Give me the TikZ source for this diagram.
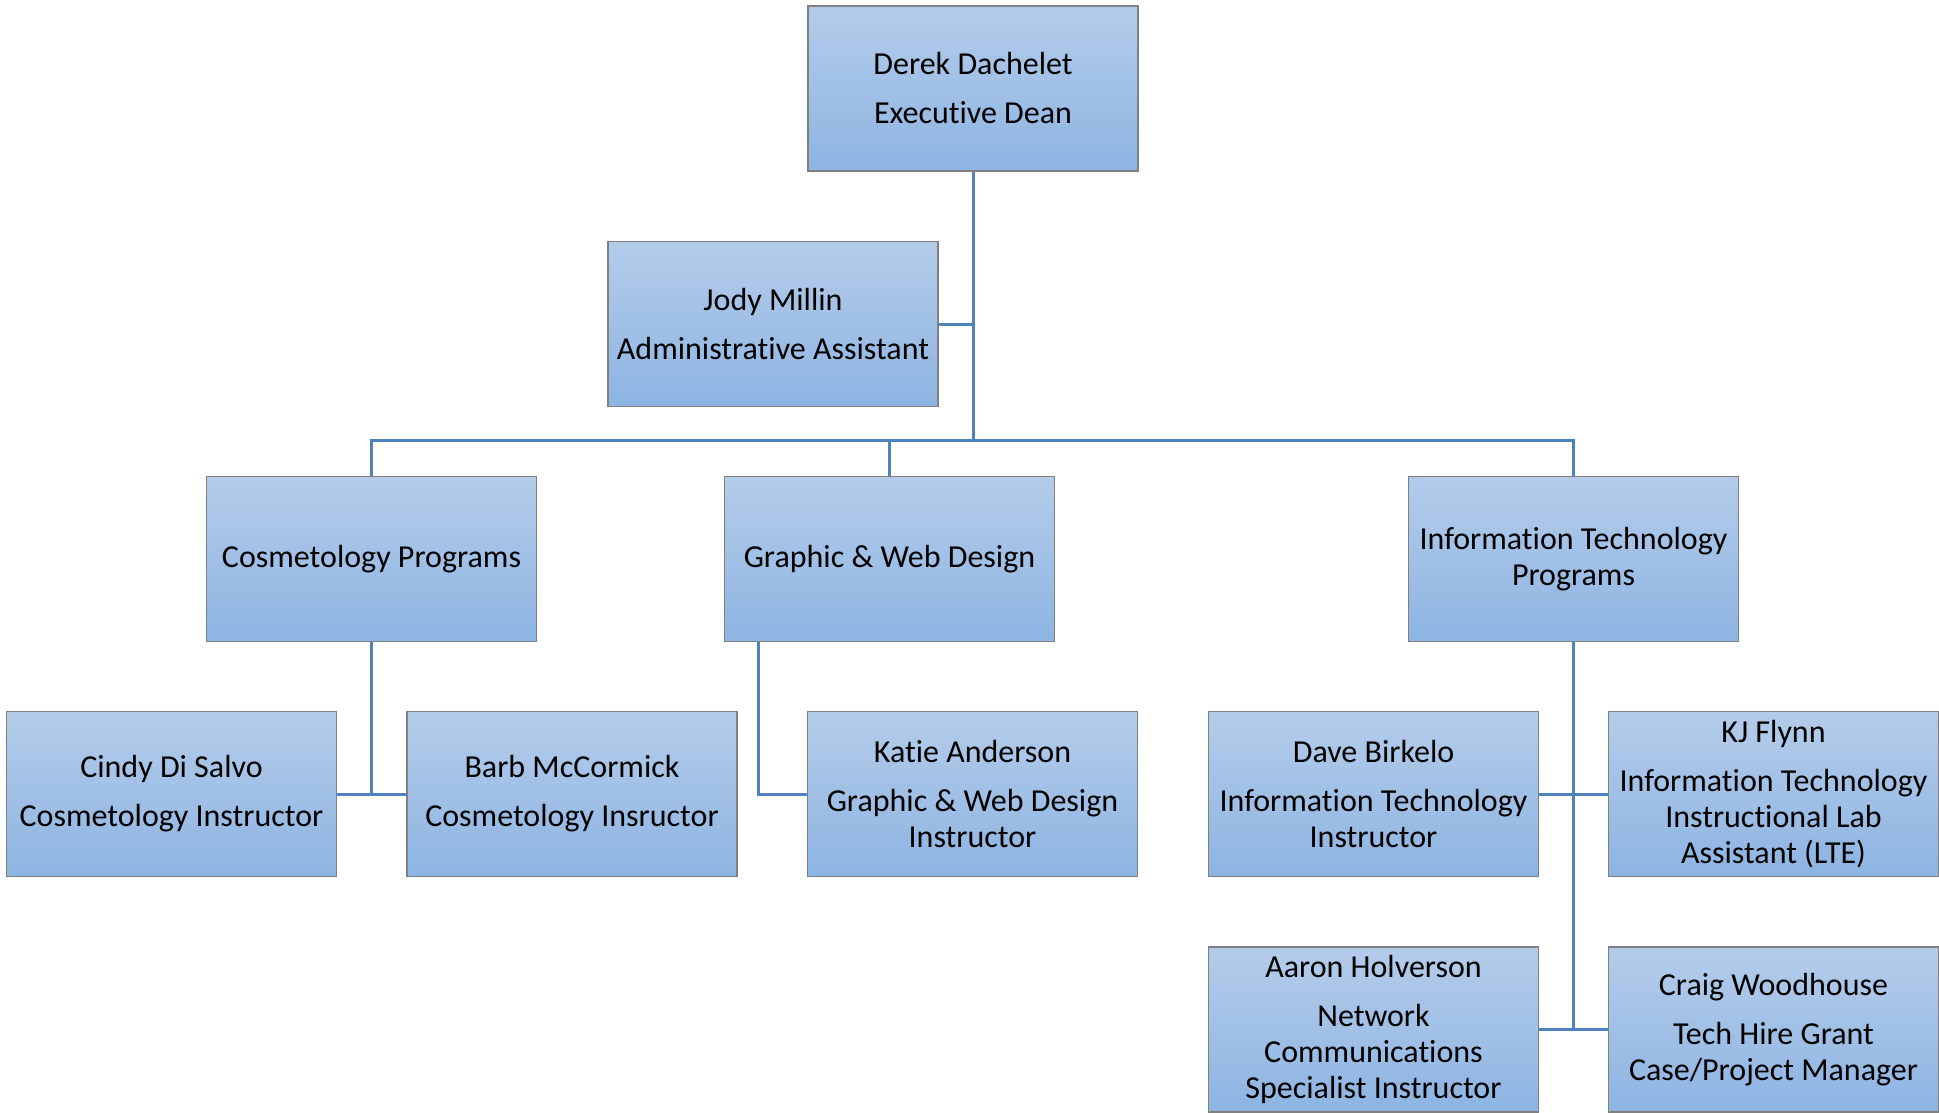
\documentclass[tikz,border=0pt]{standalone}
\usepackage{fontspec}
\setmainfont[Ligatures=NoCommon]{Carlito}
\usepackage{tikz}
\usetikzlibrary{calc}
\definecolor{boxtop}{HTML}{B4CCEA}
\definecolor{boxbottom}{HTML}{8DB4E2}
\definecolor{boxline}{HTML}{808080}
\definecolor{linkblue}{HTML}{4F81BD}
\newcommand{\gap}{\\[6.5pt]}
\begin{document}
\begin{tikzpicture}[x=0.5pt, y=-0.5pt,
		orgbox/.style={rectangle, draw=boxline, line width=0.8pt, top color=boxtop, bottom color=boxbottom, minimum width=165pt, minimum height=82.5pt, inner sep=0pt, align=center, font=\fontsize{16}{18}\selectfont},
		link/.style={draw=linkblue, line width=1.5pt}]
		\useasboundingbox (0,0) rectangle (1939,1113);
		
		\node (rectdean) [orgbox] at (973,88.5) {Derek Dachelet\gap Executive Dean};
		
		\node (rectjody) [orgbox] at (773,324) {Jody Millin\gap Administrative Assistant};
		
		\node (rectcosm) [orgbox] at (371.5,559) {Cosmetology Programs};
		
		\node (rectgraphic) [orgbox] at (889.5,559) {Graphic \& Web Design};
		
		\node (rectit) [orgbox] at (1573.5,559) {Information Technology\\Programs};
		
		\node (rectcindy) [orgbox] at (171.5,794) {Cindy Di Salvo\gap Cosmetology Instructor};
		
		\node (rectbarb) [orgbox] at (572,794) {Barb McCormick\gap Cosmetology Insructor};
		
		\node (rectkatie) [orgbox] at (972.5,794) {Katie Anderson\gap Graphic \& Web Design\\Instructor};
		
		\node (rectdave) [orgbox] at (1373.5,794) {Dave Birkelo\gap Information Technology\\Instructor};
		
		\node (rectkj) [orgbox] at (1773.5,794) {KJ Flynn\gap Information Technology\\Instructional Lab\\Assistant (LTE)};
		
		\node (rectaaron) [orgbox] at (1373.5,1029.5) {Aaron Holverson\gap Network\\Communications\\Specialist Instructor};
		
		\node (rectcraig) [orgbox] at (1773.5,1029.5) {Craig Woodhouse\gap Tech Hire Grant\\Case/Project Manager};
		
		\coordinate (bar) at (973,440);
		
		\draw [link] (rectdean.south) -- (bar);
		\draw [link] (rectdean.south) |- (rectjody.east);
		\draw [link] (rectcosm.north) -- (rectcosm.north |- bar) -- (rectit.north |- bar) -- (rectit.north);
		\draw [link] (rectgraphic.north) -- (rectgraphic.north |- bar);
		\draw [link] (rectcosm.south) |- (rectcindy.east);
		\draw [link] (rectcosm.south) |- (rectbarb.west);
		\draw [link] ([xshift=17.5pt]rectgraphic.south west) |- (rectkatie.west);
		\draw [link] (rectit.south) -- (rectit.south |- rectaaron.east);
		\draw [link] (rectdave.east) -- (rectkj.west);
		\draw [link] (rectaaron.east) -- (rectcraig.west);
		
	\end{tikzpicture}
\end{document}
